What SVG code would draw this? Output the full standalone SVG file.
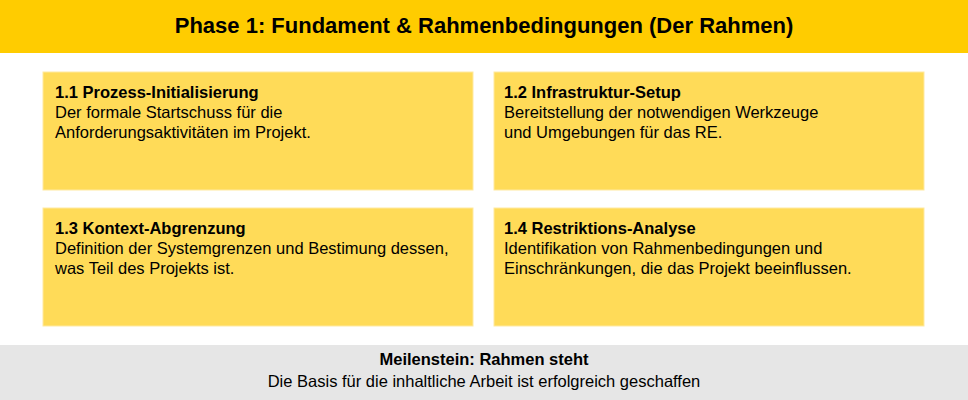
<svg xmlns="http://www.w3.org/2000/svg" width="968" height="400" viewBox="0 0 968 400">
<style>
text{font-family:"Liberation Sans",Arial,sans-serif;fill:#000}
.h{font-size:22px;font-weight:bold}
.t{font-size:16.5px;font-weight:bold}
.b{font-size:16.5px}
.box{fill:#FFDB58;stroke:#FFE9A0;stroke-width:1}
</style>
<rect x="0" y="0" width="968" height="400" fill="#fff"/>
<g id="header">
<rect x="0" y="0" width="968" height="53" fill="#FFCC00"/>
<text class="h" x="484" y="33" text-anchor="middle">Phase 1: Fundament &amp; Rahmenbedingungen (Der Rahmen)</text>
</g>
<g id="n11">
<rect class="box" x="43" y="72" width="430" height="118"/>
<text class="t" x="55" y="98">1.1 Prozess-Initialisierung</text>
<text class="b" x="55" y="118">Der formale Startschuss für die</text>
<text class="b" x="55" y="138">Anforderungsaktivitäten im Projekt.</text>
</g>
<g id="n12">
<rect class="box" x="494" y="72" width="430" height="118"/>
<text class="t" x="504" y="98">1.2 Infrastruktur-Setup</text>
<text class="b" x="504" y="118">Bereitstellung der notwendigen Werkzeuge</text>
<text class="b" x="504" y="138">und Umgebungen für das RE.</text>
</g>
<g id="n13">
<rect class="box" x="43" y="208" width="430" height="118"/>
<text class="t" x="55" y="234">1.3 Kontext-Abgrenzung</text>
<text class="b" x="55" y="254">Definition der Systemgrenzen und Bestimung dessen,</text>
<text class="b" x="55" y="274">was Teil des Projekts ist.</text>
</g>
<g id="n14">
<rect class="box" x="494" y="208" width="430" height="118"/>
<text class="t" x="504" y="234">1.4 Restriktions-Analyse</text>
<text class="b" x="504" y="254">Identifikation von Rahmenbedingungen und</text>
<text class="b" x="504" y="274">Einschränkungen, die das Projekt beeinflussen.</text>
</g>
<g id="footer">
<rect x="0" y="345" width="968" height="55" fill="#E6E6E6"/>
<text class="t" x="484" y="365" text-anchor="middle">Meilenstein: Rahmen steht</text>
<text class="b" x="484" y="387" text-anchor="middle">Die Basis für die inhaltliche Arbeit ist erfolgreich geschaffen</text>
</g>
<g id="connectors"/>
</svg>
